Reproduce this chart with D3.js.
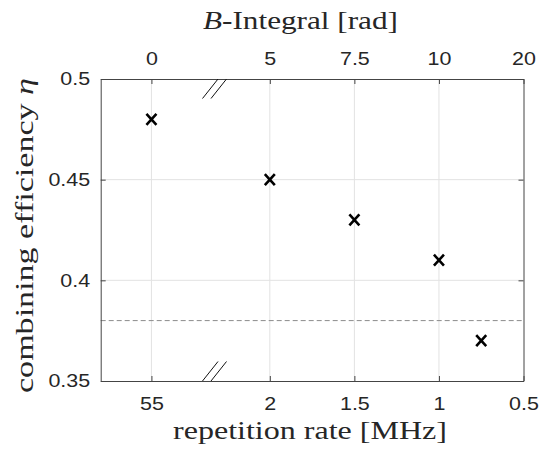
<!DOCTYPE html>
<html><head><meta charset="utf-8">
<script src="https://cdn.jsdelivr.net/npm/d3@7"></script>
<style>body{margin:0;background:#fff}svg{display:block}</style>
</head><body>
<script>
// ---- data ----
const repRate = [55, 2, 1.5, 1, 0.75];            // MHz (55 sits left of the axis break)
const efficiency = [0.48, 0.45, 0.43, 0.41, 0.37]; // combining efficiency
const repTicks = [55, 2, 1.5, 1, 0.5];
const repTickLabels = ["55", "2", "1.5", "1", "0.5"];
const bIntegralLabels = ["0", "5", "7.5", "10", "20"];
const yTicks = [0.35, 0.4, 0.45, 0.5];
const yTickLabels = ["0.35", "0.4", "0.45", "0.5"];
const threshold = 0.38;
const breakPos = 2.33;      // axis position of the break marks
const brokenValuePos = 2.7; // axis position where 55 MHz is drawn

const W = 539, H = 450;
const m = {left: 100.7, right: W - 523.5, top: 79, bottom: H - 381};
const stretch = 1.16; // horizontal stretch of the reference text

const svg = d3.select("body").append("svg").attr("width", W).attr("height", H);

const pos = v => (v > 3 ? brokenValuePos : v);
const x = d3.scaleLinear().domain([3, 0.5]).range([m.left, W - m.right]);
const y = d3.scaleLinear().domain([0.35, 0.5]).range([H - m.bottom, m.top]);
const X = v => x(pos(v));

const g = svg.append("g");
const axisColor = "#444";
const textColor = "#262626";

// grid
g.selectAll(".vg").data(repTicks.slice(0, -1)).enter().append("line")
  .attr("x1", d => X(d)).attr("x2", d => X(d))
  .attr("y1", y(0.5)).attr("y2", y(0.35))
  .attr("stroke", "#e2e2e2").attr("stroke-width", 1);
g.selectAll(".hg").data(yTicks.slice(1, -1)).enter().append("line")
  .attr("x1", x(3)).attr("x2", x(0.5))
  .attr("y1", d => y(d)).attr("y2", d => y(d))
  .attr("stroke", "#e2e2e2").attr("stroke-width", 1);

// dashed threshold
g.append("line")
  .attr("x1", x(3)).attr("x2", x(0.5))
  .attr("y1", y(threshold)).attr("y2", y(threshold))
  .attr("stroke", "#8c8c8c").attr("stroke-width", 1)
  .attr("stroke-dasharray", "5,3");

// axes (D3 axes with inner ticks)
const bottomAxis = d3.axisBottom(x).tickValues(repTicks.map(pos))
  .tickFormat((d, i) => repTickLabels[i]).tickSizeInner(-5).tickSizeOuter(0).tickPadding(16);
const topAxis = d3.axisTop(x).tickValues(repTicks.map(pos))
  .tickFormat((d, i) => bIntegralLabels[i]).tickSizeInner(-5).tickSizeOuter(0).tickPadding(14);
const leftAxis = d3.axisLeft(y).tickValues(yTicks)
  .tickFormat((d, i) => yTickLabels[i]).tickSizeInner(-5).tickSizeOuter(0).tickPadding(10.5);
const rightAxis = d3.axisRight(y).tickValues(yTicks).tickFormat("").tickSizeInner(-5).tickSizeOuter(0);

function style(sel) {
  sel.selectAll("path").attr("stroke", axisColor).attr("stroke-width", 1);
  sel.selectAll("line").attr("stroke", axisColor);
  sel.selectAll("text").attr("fill", textColor)
    .style("font-family", "'Liberation Sans', Arial, sans-serif").style("font-size", "18.5px")
    .each(function () {
      const L = this.getComputedTextLength();
      if (L > 0) d3.select(this).attr("textLength", L * stretch).attr("lengthAdjust", "spacingAndGlyphs");
    });
}
g.append("g").attr("transform", `translate(0,${y(0.35)})`).call(bottomAxis).call(style);
g.append("g").attr("transform", `translate(0,${y(0.5)})`).call(topAxis).call(style);
g.append("g").attr("transform", `translate(${x(3)},0)`).call(leftAxis).call(style);
g.append("g").attr("transform", `translate(${x(0.5)},0)`).call(rightAxis).call(style);

// break marks "//" at top and bottom
[[y(0.5), y(0.5) + 19.5], [y(0.35) - 19.5, y(0.35)]].forEach(([y0, y1]) => {
  [0, 8.5].forEach(off => {
    g.append("line")
      .attr("x1", x(breakPos) - 11.5 + off).attr("y1", y1)
      .attr("x2", x(breakPos) + 4 + off).attr("y2", y0)
      .attr("stroke", "#111").attr("stroke-width", 1);
  });
});

// markers
const sx = 5, sy = 5.5;
g.selectAll(".mk").data(repRate.map((r, i) => [r, efficiency[i]])).enter().append("path")
  .attr("d", d => {
    const cx = X(d[0]), cy = y(d[1]);
    return `M${cx - sx},${cy - sy}L${cx + sx},${cy + sy}M${cx - sx},${cy + sy}L${cx + sx},${cy - sy}`;
  })
  .attr("stroke", "#000").attr("stroke-width", 2.6).attr("fill", "none");

// labels
const serif = "'Liberation Serif', 'Times New Roman', serif";
svg.append("text").attr("x", 310).attr("y", 439)
  .attr("text-anchor", "middle").attr("fill", textColor)
  .style("font-family", serif).style("font-size", "25.5px")
  .attr("textLength", 274).attr("lengthAdjust", "spacingAndGlyphs")
  .text("repetition rate [MHz]");

const t = svg.append("text").attr("x", 300.5).attr("y", 29)
  .attr("text-anchor", "middle").attr("fill", textColor)
  .style("font-family", serif).style("font-size", "25.5px")
  .attr("textLength", 195).attr("lengthAdjust", "spacingAndGlyphs");
t.append("tspan").style("font-style", "italic").text("B");
t.append("tspan").text("-Integral [rad]");

const yl = svg.append("text").attr("transform", `translate(33,235.5) rotate(-90)`)
  .attr("text-anchor", "middle").attr("fill", textColor)
  .style("font-family", serif).style("font-size", "25.5px")
  .attr("textLength", 315).attr("lengthAdjust", "spacingAndGlyphs");
yl.append("tspan").text("combining efficiency ");
yl.append("tspan").style("font-style", "italic").text("η");
</script>
</body></html>
